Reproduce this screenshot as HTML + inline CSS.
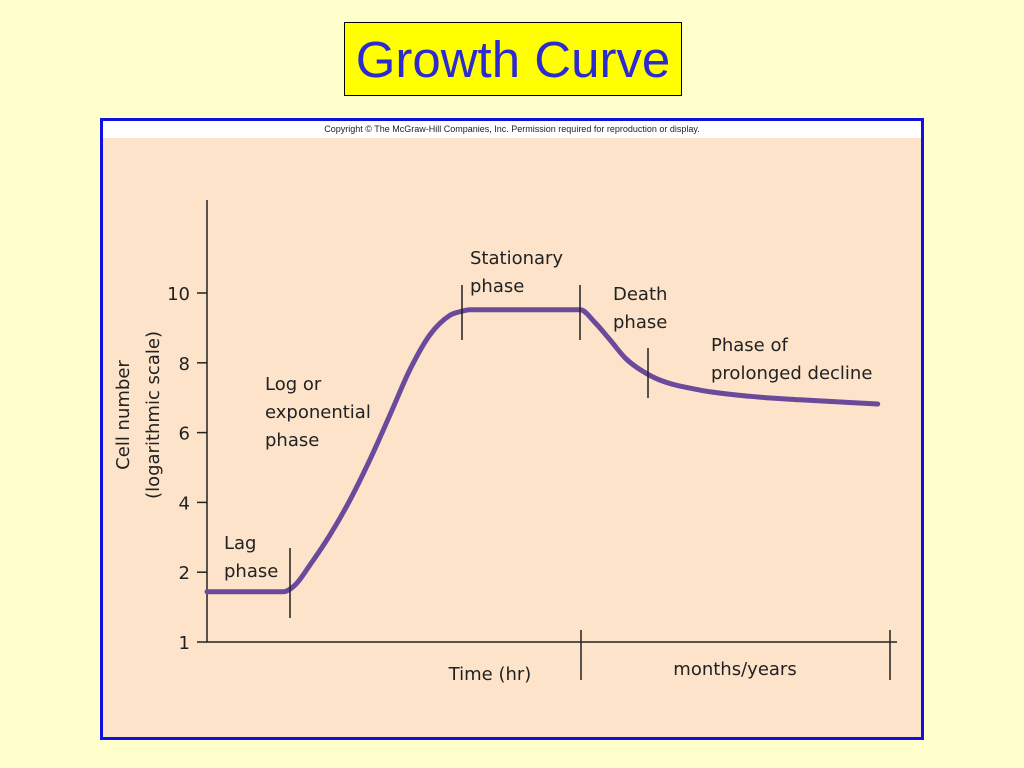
<!DOCTYPE html>
<html><head><meta charset="utf-8"><style>
html,body{margin:0;padding:0;background:#FFFFCC;width:1024px;height:768px;overflow:hidden;font-family:"Liberation Sans",sans-serif}
#title{position:absolute;left:344px;top:22px;width:336px;height:72px;background:#FFFF00;border:1px solid #000;color:#2B2BD0;font-size:51px;line-height:74px;text-align:center}
#frame{position:absolute;left:100px;top:118px;width:818px;height:616px;border:3px solid #1010E0;background:#FCE3CA}
#copy{position:absolute;left:0;top:0;width:818px;height:17px;background:#fff;font-size:9px;line-height:17px;text-align:center;color:#222}
svg{position:absolute;left:0;top:0}
</style></head><body>
<div id="title">Growth Curve</div>
<div id="frame"><div id="copy">Copyright © The McGraw-Hill Companies, Inc. Permission required for reproduction or display.</div></div>
<svg id="chart" width="1024" height="768" font-family="DejaVu Sans, sans-serif" font-size="18" fill="#222"></svg>
<script>
const tickLabels=["1","2","4","6","8","10"];
const times=[0,11,12.8,14.9,17.8,20.7,23.6,26.5,29.4,32.3,35.2,37,38.1,54.1,56.2,58.4,60.6,62.8,65.7,71.4,78.7,85.9,97.2];
const levels=[0.72,0.72,0.82,1.10,1.53,2.03,2.61,3.25,3.90,4.40,4.68,4.74,4.76,4.76,4.58,4.33,4.07,3.90,3.75,3.61,3.52,3.47,3.41];
const X=t=>207+t*6.9, Y=u=>642-u*69.8;
const svg=document.getElementById('chart'),NS='http://www.w3.org/2000/svg';
function mk(tag,a,txt){const e=document.createElementNS(NS,tag);for(const k in a)e.setAttribute(k,a[k]);if(txt!=null)e.textContent=txt;svg.appendChild(e);return e;}
let e=mk('line',{x1:207,y1:200,x2:207,y2:642,stroke:'#222','stroke-width':1.5});

e=mk('line',{x1:207,y1:642,x2:897,y2:642,stroke:'#222','stroke-width':1.5});

tickLabels.forEach((l,i)=>{const y=Y(i);
 let t=mk('line',{x1:197,y1:y,x2:207,y2:y,stroke:'#222','stroke-width':1.5});
 
 let s=mk('text',{x:190,y:y+7,'text-anchor':'end'},l);
 });
[581,890].forEach(x=>{let t=mk('line',{x1:x,y1:630,x2:x,y2:680,stroke:'#222','stroke-width':1.5});
 });
e=mk('text',{x:490,y:680,'text-anchor':'middle'},'Time (hr)');
e=mk('text',{x:735,y:675,'text-anchor':'middle'},'months/years');
e=mk('text',{transform:'translate(129,415) rotate(-90)','text-anchor':'middle'},'Cell number');
e=mk('text',{transform:'translate(159,415) rotate(-90)','text-anchor':'middle'},'(logarithmic scale)');
// monotone cubic interpolation
const px=times.map(X), py=levels.map(Y), n=px.length;
const dl=[],m=[];
for(let i=0;i<n-1;i++)dl.push((py[i+1]-py[i])/(px[i+1]-px[i]));
m[0]=dl[0];m[n-1]=dl[n-2];
for(let i=1;i<n-1;i++){m[i]=(dl[i-1]*dl[i]<=0)?0:(dl[i-1]+dl[i])/2;}
for(let i=0;i<n-1;i++){if(dl[i]===0){m[i]=0;m[i+1]=0;continue;}const a=m[i]/dl[i],b=m[i+1]/dl[i],s=a*a+b*b;if(s>9){const t=3/Math.sqrt(s);m[i]=t*a*dl[i];m[i+1]=t*b*dl[i];}}
let d='M'+px[0]+','+py[0];
for(let i=0;i<n-1;i++){const h=(px[i+1]-px[i])/3;d+=' C'+(px[i]+h)+','+(py[i]+m[i]*h)+' '+(px[i+1]-h)+','+(py[i+1]-m[i+1]*h)+' '+px[i+1]+','+py[i+1];}
e=mk('path',{d:d,fill:'none',stroke:'#6B4A9C','stroke-width':5,'stroke-linecap':'round'});

[[290,548,618],[462,285,340],[580,285,340],[648,348,398]].forEach(([x,a,b])=>{let t=mk('line',{x1:x,y1:a,x2:x,y2:b,stroke:'#222','stroke-width':1.5});
 });
[[224,549,['Lag','phase'],'lag-phase-label'],[265,390,['Log or','exponential','phase'],'log-phase-label'],[470,264,['Stationary','phase'],'stationary-phase-label'],[613,300,['Death','phase'],'death-phase-label'],[711,351,['Phase of','prolonged decline'],'decline-phase-label']].forEach(([x,y,lines,n])=>{
 lines.forEach((l,i)=>{let t=mk('text',{x:x,y:y+i*28},l);
 });});
</script>
</body></html>
